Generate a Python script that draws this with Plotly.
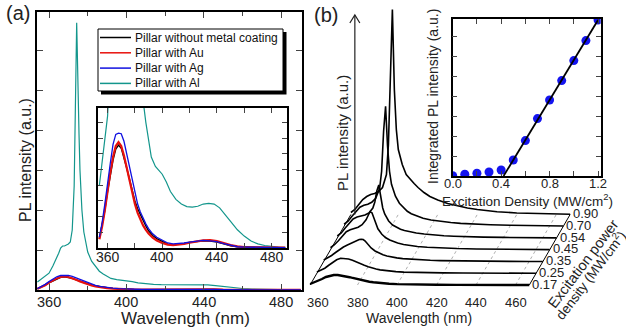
import plotly.graph_objects as go

W, H = 626, 328
def fx(px): return px / W
def fy(py): return 1 - py / H

FONT = "Liberation Sans, Arial, sans-serif"

# ---------------- Panel (a) data ----------------
WL_A = [354, 356, 358, 360, 362, 364, 365, 366, 367, 368, 369, 370, 371, 372, 373, 373.5, 374, 374.3,
        374.6, 375, 375.5, 376, 376.5, 377, 378, 379, 380, 382, 384, 386, 388, 390, 392, 395, 398, 400,
        403, 406, 410, 414, 418, 422, 426, 430, 434, 438, 442, 446, 450, 455, 460, 465, 470, 475, 480,
        485, 490]
AL = [0.2, 0.27, 0.34, 0.42, 0.6, 0.8, 0.92, 1.05, 1.1, 1.1, 1.12, 1.15, 1.2, 1.5, 2.6, 4.2, 6.2, 6.68,
      6.0, 4.8, 3.9, 3.0, 2.4, 2.0, 1.45, 1.15, 0.95, 0.72, 0.58, 0.47, 0.4, 0.34, 0.29, 0.26, 0.245, 0.235,
      0.21, 0.18, 0.155, 0.14, 0.132, 0.13, 0.133, 0.14, 0.142, 0.14, 0.128, 0.108, 0.085, 0.058, 0.038,
      0.022, 0.013, 0.008, 0.005, 0.003, 0.002]

WL_A2 = [354, 356, 358, 360, 362, 364, 366, 368, 370, 372, 374, 376, 378, 380, 382, 384, 386, 388, 390,
         393, 396, 400, 404, 408, 412, 416, 420, 425, 430, 435, 440, 445, 450, 455, 460, 470, 480, 490]
BARE = [0.03, 0.07, 0.12, 0.18, 0.23, 0.28, 0.315, 0.328, 0.318, 0.29, 0.255, 0.22, 0.185, 0.15, 0.125,
        0.105, 0.085, 0.07, 0.055, 0.04, 0.03, 0.02, 0.012, 0.01, 0.011, 0.014, 0.018, 0.021, 0.023, 0.022,
        0.019, 0.013, 0.007, 0.004, 0.003, 0.002, 0.001, 0.001]
AU = [0.028, 0.068, 0.12, 0.185, 0.24, 0.29, 0.325, 0.337, 0.325, 0.295, 0.255, 0.215, 0.175, 0.14, 0.112,
      0.09, 0.072, 0.058, 0.046, 0.033, 0.024, 0.016, 0.011, 0.009, 0.01, 0.013, 0.017, 0.021, 0.024, 0.025,
      0.022, 0.016, 0.009, 0.005, 0.003, 0.002, 0.001, 0.001]
AG = [0.035, 0.08, 0.14, 0.21, 0.27, 0.33, 0.362, 0.366, 0.364, 0.34, 0.3, 0.26, 0.215, 0.175, 0.14,
      0.115, 0.093, 0.077, 0.062, 0.045, 0.034, 0.024, 0.016, 0.013, 0.014, 0.016, 0.019, 0.022, 0.024,
      0.023, 0.02, 0.014, 0.008, 0.004, 0.003, 0.002, 0.001, 0.001]

LEGEND_NAMES = ["Pillar without metal coating", "Pillar with Au", "Pillar with Ag", "Pillar with Al"]
COLORS = ["#000000", "#e8100c", "#1010e0", "#13968c"]
WL_TICKS_A = [360, 400, 440, 480]

# ---------------- Panel (b) data ----------------
WL_B = [356, 358, 360, 362, 364, 366, 368, 370, 372, 374, 375, 376, 377, 378, 379, 380, 382, 384, 386,
        388, 390, 393, 396, 400, 405, 410, 415, 420, 430, 440, 450, 460, 467]
POWER_LABELS = ["0.17", "0.25", "0.35", "0.45", "0.54", "0.70", "0.90"]
S017 = [1, 2.5, 4, 6, 8, 9.3, 10, 10, 9.5, 8.7, 8.3, 7.8, 7.3, 6.8, 6.3, 5.8, 4.9, 4, 3.3, 2.7, 2.2, 1.7,
        1.3, 0.9, 0.6, 0.4, 0.3, 0.2, 0.1, 0.05, 0, 0, 0]
S025 = [1.2, 3, 5, 8, 11, 13.5, 15, 15, 14.3, 13, 12.3, 11.5, 10.6, 9.7, 8.8, 8, 6.5, 5.2, 4.2, 3.4, 2.8,
        2.1, 1.6, 1.1, 0.8, 0.6, 0.45, 0.35, 0.2, 0.1, 0.05, 0, 0]
S035 = [1.5, 3.5, 6, 9, 12, 14.5, 16.5, 18.5, 20.5, 22, 22.3, 22, 20.5, 18, 15.5, 13.5, 10.5, 8.3, 6.7,
        5.5, 4.6, 3.6, 2.9, 2.2, 1.6, 1.2, 0.9, 0.7, 0.4, 0.25, 0.15, 0.05, 0]
S045 = [2, 5, 9, 14, 18, 20, 21, 22.5, 25, 30, 34, 38, 37, 31, 25, 21, 15.5, 12, 9.7, 8, 6.7, 5.3, 4.3,
        3.3, 2.5, 1.9, 1.5, 1.2, 0.8, 0.5, 0.3, 0.15, 0.1]
S054 = [2, 5, 10, 15, 19, 21, 22, 23, 25, 30, 36, 47, 53, 40, 30, 24, 17, 13, 10.5, 8.8, 7.5, 6, 5, 4,
        3, 2.3, 1.8, 1.4, 0.9, 0.6, 0.35, 0.2, 0.1]
S070 = [2, 5, 10, 15, 19, 21, 22, 24, 28, 38, 55, 95, 120, 80, 55, 42, 30, 23, 18.5, 15, 12.5, 10, 8,
        6.3, 4.8, 3.7, 2.9, 2.3, 1.5, 1, 0.6, 0.3, 0.2]
S090 = [2, 5, 10, 15, 18, 20, 21, 23, 27, 40, 70, 150, 205, 125, 85, 65, 50, 40, 35, 31, 27, 22, 18,
        14.5, 11, 8.5, 6.5, 5, 2.8, 1.5, 0.8, 0.4, 0.2]
SPECTRA_B = [S017, S025, S035, S045, S054, S070, S090]
WL_TICKS_B = [360, 380, 400, 420, 440, 460]

# inset (b)
EXC = [0.0, 0.1, 0.2, 0.3, 0.4, 0.5, 0.6, 0.7, 0.8, 0.9, 1.0, 1.1, 1.2]
INTPL = [0.015, 0.085, 0.135, 0.2, 0.3, 0.8, 1.77, 2.87, 3.8, 4.77, 5.77, 6.77, 7.8]
FIT_X = [0.42, 1.2]
FIT_Y = [0.0, 7.8]
EXC_TICKS = [0.0, 0.4, 0.8, 1.2]

fig = go.Figure()

# ---------- panel (a) main + inset ----------
SERIES_A = [(LEGEND_NAMES[3], COLORS[3], WL_A, AL, 1.2),
            (LEGEND_NAMES[0], COLORS[0], WL_A2, BARE, 1.4),
            (LEGEND_NAMES[1], COLORS[1], WL_A2, AU, 2.2),
            (LEGEND_NAMES[2], COLORS[2], WL_A2, AG, 1.3)]
for xa, ya in [("x", "y"), ("x2", "y2")]:
    for name, col, xs, ys, w in SERIES_A:
        fig.add_trace(go.Scatter(x=xs, y=ys, mode="lines", line=dict(color=col, width=w),
                                 xaxis=xa, yaxis=ya, showlegend=False, name=name))

# ---------- panel (b) waterfall ----------
PX_PER_NM = 1.975
DX_NM = 6.8 / PX_PER_NM   # depth shift per trace
DY = 11.75                 # vertical shift per trace (px units)
BASE0 = 7.0
nK = len(SPECTRA_B)
for t in WL_TICKS_B[1:]:
    fig.add_trace(go.Scatter(x=[t, t + (nK - 1) * DX_NM], y=[BASE0, BASE0 + (nK - 1) * DY], mode="lines",
                             line=dict(color="#9a9a9a", width=0.8, dash="dot"),
                             xaxis="x3", yaxis="y3", showlegend=False, hoverinfo="skip"))
for wl in [WL_B[0], WL_B[-1]]:
    fig.add_trace(go.Scatter(x=[wl, wl + (nK - 1) * DX_NM], y=[BASE0, BASE0 + (nK - 1) * DY], mode="lines",
                             line=dict(color="black", width=1.0),
                             xaxis="x3", yaxis="y3", showlegend=False, hoverinfo="skip"))
for k in range(nK - 1, -1, -1):
    sp = SPECTRA_B[k]
    xs = [w + k * DX_NM for w in WL_B]
    ys = [BASE0 + k * DY + v for v in sp]
    fig.add_trace(go.Scatter(x=xs, y=ys, mode="lines",
                             line=dict(color="black", width=2.4 if k == 0 else 1.6),
                             xaxis="x3", yaxis="y3", showlegend=False, name=POWER_LABELS[k]))

# ---------- panel (b) inset ----------
fig.add_trace(go.Scatter(x=EXC, y=INTPL, mode="markers", marker=dict(color="#1414f0", size=9),
                         xaxis="x4", yaxis="y4", showlegend=False))
fig.add_trace(go.Scatter(x=FIT_X, y=FIT_Y, mode="lines", line=dict(color="black", width=1.8),
                         xaxis="x4", yaxis="y4", showlegend=False, cliponaxis=False))

# ---------- axes ----------
def frame_axis(**kw):
    d = dict(showline=True, linecolor="black", linewidth=1.5, mirror="ticks", ticks="inside",
             showgrid=False, zeroline=False, tickfont=dict(family=FONT, size=14, color="#222"))
    d.update(kw)
    return d

x3_left_px, x3_right_px = 300, 605
x3_range = [360 + (x3_left_px - 318) / PX_PER_NM, 360 + (x3_right_px - 318) / PX_PER_NM]
y3_top_px, y3_bot_px = 3, 292

fig.update_layout(
    width=W, height=H, margin=dict(l=0, r=0, t=0, b=0),
    paper_bgcolor="white", plot_bgcolor="rgba(0,0,0,0)",
    xaxis=frame_axis(domain=[fx(37), fx(302)], range=[353.8, 490.7], anchor="y",
                     tickmode="array", tickvals=WL_TICKS_A, ticklen=6, showticklabels=False,
                     minor=dict(ticks="inside", dtick=20, tick0=360, ticklen=4)),
    yaxis=frame_axis(domain=[fy(290), fy(12)], range=[0, 6.95], anchor="x", dtick=1, ticklen=6,
                     showticklabels=False),
    xaxis2=frame_axis(domain=[fx(98), fx(287)], range=[353, 491.3], anchor="y2",
                      tickmode="array", tickvals=WL_TICKS_A, ticklen=5, showticklabels=False,
                      minor=dict(ticks="inside", dtick=20, tick0=360, ticklen=5)),
    yaxis2=frame_axis(domain=[fy(248), fy(108)], range=[0, 0.446], anchor="x2", dtick=0.05, ticklen=5,
                      showticklabels=False),
    xaxis3=dict(domain=[fx(x3_left_px), fx(x3_right_px)], range=x3_range, anchor="y3",
                showline=False, showgrid=False, zeroline=False, ticks="", showticklabels=False),
    yaxis3=dict(domain=[fy(y3_bot_px), fy(y3_top_px)], range=[0, y3_bot_px - y3_top_px], anchor="x3",
                visible=False),
    xaxis4=frame_axis(domain=[fx(452.7), fx(600.7)], range=[0, 1.222], anchor="y4",
                      tickmode="array", tickvals=EXC_TICKS, showticklabels=False, ticklen=5,
                      minor=dict(ticks="inside", dtick=0.2, tick0=0, ticklen=5)),
    yaxis4=frame_axis(domain=[fy(176), fy(19)], range=[0, 7.85], anchor="x4", dtick=1, ticklen=5,
                      showticklabels=False),
)

shapes = []
annotations = []

def tick_labels(values, xref, ypx, size, fmt):
    for v in values:
        annotations.append(dict(text=fmt(v), xref=xref, yref="paper", x=v, y=fy(ypx), showarrow=False,
                                xanchor="center", yanchor="middle",
                                font=dict(family=FONT, size=size, color="#222")))

tick_labels(WL_TICKS_A, "x", 302, 14.5, lambda v: f"{v:d}")
tick_labels(WL_TICKS_A, "x2", 257, 14, lambda v: f"{v:d}")
tick_labels(EXC_TICKS, "x4", 183, 13, lambda v: f"{v:.1f}")
tick_labels(WL_TICKS_B, "x3", 302, 13, lambda v: f"{v:d}")

# legend box with shadow
shapes.append(dict(type="rect", xref="paper", yref="paper", x0=fx(101), x1=fx(286.5), y0=fy(94.5), y1=fy(32),
                   fillcolor="black", line=dict(width=0)))
shapes.append(dict(type="rect", xref="paper", yref="paper", x0=fx(98), x1=fx(283), y0=fy(91), y1=fy(29),
                   fillcolor="white", line=dict(color="black", width=1)))
for i, (nm, col) in enumerate(zip(LEGEND_NAMES, COLORS)):
    yy = 37.5 + i * 15.3
    shapes.append(dict(type="line", xref="paper", yref="paper", x0=fx(100), x1=fx(131), y0=fy(yy), y1=fy(yy),
                       line=dict(color=col, width=1.5)))
    annotations.append(dict(text=nm, xref="paper", yref="paper", x=fx(132.5), y=fy(yy), xanchor="left",
                            yanchor="middle", showarrow=False, font=dict(family=FONT, size=12, color="#111")))

# vertical PL intensity arrow in panel (b)
ax_wl = 358 + (nK - 1) * DX_NM
ax_base = BASE0 + (nK - 1) * DY
ax_top = y3_bot_px - 15
shapes.append(dict(type="line", xref="x3", yref="y3", x0=ax_wl, x1=ax_wl, y0=ax_base, y1=ax_top,
                   line=dict(color="#222", width=1.2)))
shapes.append(dict(type="path", xref="x3", yref="y3",
                   path=f"M {ax_wl - 5 / PX_PER_NM},{ax_top - 8} L {ax_wl},{ax_top} L {ax_wl + 5 / PX_PER_NM},{ax_top - 8}",
                   line=dict(color="#222", width=1.2)))

for k, lab in enumerate(POWER_LABELS):
    annotations.append(dict(text=lab, xref="x3", yref="y3", x=WL_B[-1] + k * DX_NM + 0.5, y=BASE0 + k * DY + 1,
                            xanchor="left", yanchor="middle", showarrow=False,
                            font=dict(family=FONT, size=13, color="#222")))

def txt(s, x, y, size, angle=0, **kw):
    d = dict(text=s, xref="paper", yref="paper", x=fx(x), y=fy(y), showarrow=False, textangle=angle,
             xanchor="center", yanchor="middle", font=dict(family=FONT, size=size, color="#222"))
    d.update(kw)
    annotations.append(d)

txt("(a)", 4, 13, 20, xanchor="left")
txt("(b)", 312, 15, 20, xanchor="left")
txt("Wavelength (nm)", 185, 318, 17)
txt("PL intensity (a.u.)", 25, 160, 16, angle=-90)
txt("Wavelength (nm)", 419, 318, 14)
txt("PL intensity (a.u.)", 342, 133, 15, angle=-90)
txt("Integrated PL intensity (a.u.)", 433, 97, 14, angle=-90)
txt("Excitation Density (MW/cm<sup>2</sup>)", 527, 200, 13.5)
txt("Excitation power", 583, 264, 14.5, angle=-53)
txt("density (MW/cm<sup>2</sup>)", 590, 275, 13.5, angle=-53)

fig.update_layout(shapes=shapes, annotations=annotations)
fig.write_html("out.html")
